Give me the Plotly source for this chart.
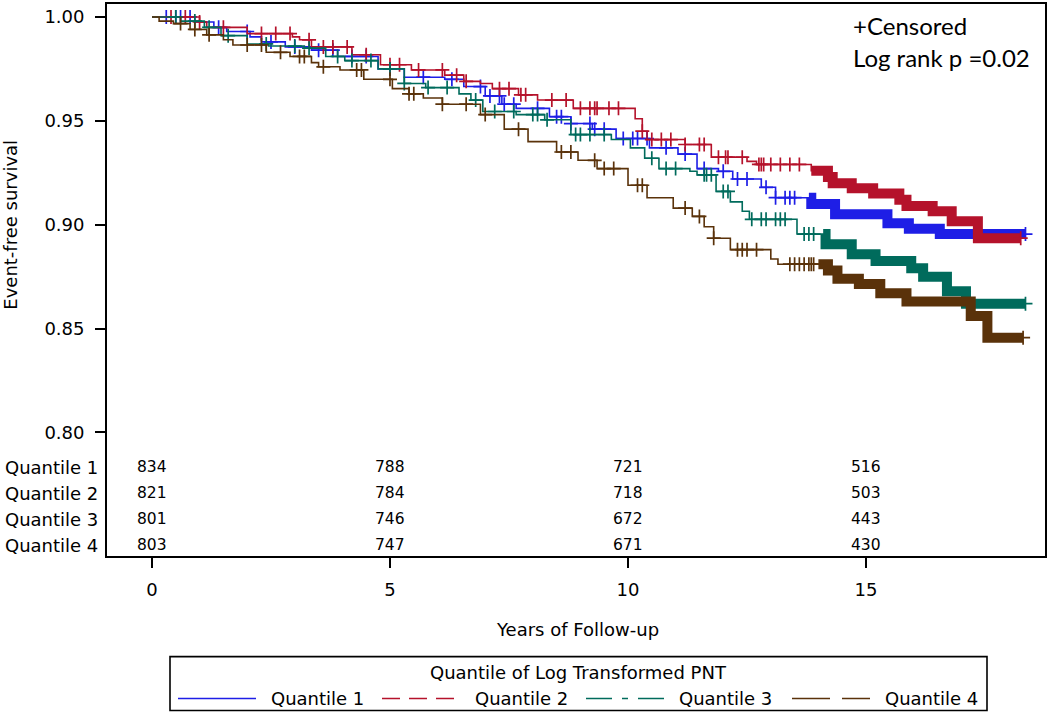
import plotly.graph_objects as go

# ---------------- data ----------------
groups = ["Quantile 1", "Quantile 2", "Quantile 3", "Quantile 4"]
colors = ["#1E1EE6", "#B5122B", "#006B5C", "#5A320A"]
x_ticks = [0, 5, 10, 15]
y_ticks = [0.80, 0.85, 0.90, 0.95, 1.00]
y_ticktext = ["0.80", "0.85", "0.90", "0.95", "1.00"]

# Kaplan-Meier step curves: event times and survival after each event
q1_t = [0, 0.9, 1.3, 1.57, 2.06, 2.3, 2.8, 3.35, 3.9, 4.75, 5.3, 6.15, 6.55, 7.0, 7.35, 7.65, 8.35, 8.8,
        9.25, 9.75, 10.45, 11.05, 11.45, 11.9, 12.2, 12.8, 13.1, 13.85, 14.35, 15.45, 15.9, 16.55]
q1_s = [1.0, 0.9976, 0.995, 0.993, 0.9904, 0.988, 0.9856, 0.984, 0.981, 0.975, 0.971, 0.970, 0.9665, 0.962,
        0.958, 0.956, 0.952, 0.9487, 0.946, 0.9415, 0.937, 0.934, 0.927, 0.9257, 0.922, 0.918, 0.913, 0.910,
        0.905, 0.9007, 0.898, 0.8955]
q1_end = 18.35

q2_t = [0, 1.0, 1.15, 2.0, 2.95, 3.1, 3.35, 4.2, 4.8, 5.45, 6.15, 6.55, 6.9, 7.15, 7.7, 8.1, 8.85, 10.15,
        10.3, 10.4, 11.2, 11.75, 12.5, 12.7, 13.85, 14.2, 14.3, 14.7, 15.15, 15.7, 15.85, 16.4, 16.8, 17.35]
q2_s = [1.0, 0.9976, 0.995, 0.992, 0.9904, 0.989, 0.9856, 0.9818, 0.977, 0.9745, 0.972, 0.969, 0.968,
        0.9655, 0.9625, 0.960, 0.956, 0.951, 0.945, 0.941, 0.9386, 0.9325, 0.9305, 0.929, 0.926, 0.923,
        0.920, 0.9175, 0.915, 0.912, 0.909, 0.9065, 0.9017, 0.8935]
q2_end = 18.25

q3_t = [0, 0.6, 1.1, 1.45, 2.0, 2.45, 3.2, 3.65, 4.05, 4.75, 5.3, 5.75, 6.45, 6.7, 6.95, 7.65, 8.25, 8.8,
        9.65, 10.05, 10.35, 10.65, 11.3, 11.45, 11.85, 12.15, 12.4, 12.55, 13.55, 14.15, 14.7, 15.2, 15.95,
        16.2, 16.7, 17.1]
q3_s = [1.0, 0.998, 0.995, 0.991, 0.987, 0.986, 0.985, 0.981, 0.979, 0.975, 0.968, 0.966, 0.963, 0.960,
        0.9545, 0.953, 0.9505, 0.9434, 0.941, 0.937, 0.932, 0.927, 0.9257, 0.924, 0.916, 0.911, 0.9065,
        0.9026, 0.8955, 0.8906, 0.8858, 0.8825, 0.879, 0.875, 0.868, 0.862]
q3_end = 18.35

q4_t = [0, 0.15, 0.45, 0.8, 1.15, 1.5, 1.7, 2.4, 2.9, 3.35, 3.5, 3.95, 4.45, 5.05, 5.4, 5.7, 6.1, 6.9, 7.4,
        7.9, 8.5, 8.95, 9.35, 10.0, 10.4, 10.95, 11.35, 11.6, 11.8, 12.15, 13.0, 13.15, 14.2, 14.4, 14.85,
        15.3, 15.85, 17.2, 17.55]
q4_s = [1.0, 0.998, 0.9968, 0.994, 0.9914, 0.989, 0.9865, 0.983, 0.981, 0.978, 0.976, 0.9745, 0.970,
        0.9655, 0.963, 0.961, 0.958, 0.953, 0.946, 0.940, 0.935, 0.931, 0.927, 0.919, 0.913, 0.908, 0.904,
        0.899, 0.8935, 0.888, 0.8835, 0.881, 0.878, 0.874, 0.8715, 0.867, 0.863, 0.856, 0.8456]
q4_end = 18.3

# censoring times (single marks) and start of the dense censoring band
q1_cens = [0.3, 0.5, 0.6, 0.8, 1.4, 2.0, 2.5, 3.0, 3.5, 3.8, 4.2, 4.5, 5.0, 5.7, 6.3, 6.9, 7.1, 7.3, 7.4,
           7.6, 8.1, 8.5, 8.6, 8.8, 9.2, 9.3, 9.5, 9.9, 10.1, 10.2, 10.4, 10.8, 11.2, 11.6, 12.0, 12.3, 12.5,
           12.9, 13.1, 13.3, 13.4, 13.5]
q2_cens = [0.4, 0.7, 1.0, 1.5, 2.3, 2.6, 2.9, 3.3, 3.6, 3.8, 4.1, 4.5, 5.0, 5.2, 5.6, 6.1, 6.4, 6.6, 7.3,
           7.5, 7.75, 7.85, 8.4, 8.7, 9.0, 9.2, 9.3, 9.35, 9.6, 9.8, 10.3, 10.5, 10.7, 10.9, 11.2, 11.5,
           11.6, 11.9, 12.05, 12.1, 12.4, 12.75, 12.8, 12.85, 13.0, 13.2, 13.4, 13.6]
q3_cens = [0.5, 0.9, 1.2, 1.6, 2.4, 3.0, 3.3, 3.9, 4.2, 4.6, 5.0, 5.3, 5.8, 6.2, 6.8, 7.2, 7.6, 8.0, 8.1,
           8.3, 8.9, 9.0, 9.2, 9.5, 10.5, 10.8, 11.0, 11.6, 11.65, 11.75, 12.0, 12.1, 12.6, 12.8, 12.9, 13.1,
           13.2, 13.3, 13.7, 13.8, 13.9]
q4_cens = [0.6, 0.9, 1.2, 2.0, 2.3, 2.7, 3.1, 3.2, 3.6, 4.3, 4.4, 5.0, 5.4, 5.5, 6.1, 6.6, 7.0, 7.7, 8.6,
           8.8, 9.3, 9.5, 9.7, 10.2, 10.3, 11.2, 11.5, 11.8, 12.3, 12.4, 12.5, 12.7, 13.4, 13.5, 13.6, 13.7,
           13.8, 13.85, 13.9]
band_start = [13.8, 13.85, 14.1, 14.0]

# number at risk
at_risk = [
    [834, 788, 721, 516],
    [821, 784, 718, 503],
    [801, 746, 672, 443],
    [803, 747, 671, 430],
]

curves = [
    (q1_t, q1_s, q1_end, q1_cens),
    (q2_t, q2_s, q2_end, q2_cens),
    (q3_t, q3_s, q3_end, q3_cens),
    (q4_t, q4_s, q4_end, q4_cens),
]

# ---------------- layout constants (pixels of 1050x714 canvas) ----------------
W, H = 1050, 714
L, R, T, B = 107, 1045, 2, 556
XR = [-0.945, 18.76]
YR = [0.74053, 1.00624]
FONT = "DejaVu Sans, Verdana, sans-serif"


def px(x):
    return (x - L) / (R - L)


def py(y):
    return (B - y) / (B - T)


def surv_at(ts, ss, t):
    v = ss[0]
    for ti, si in zip(ts, ss):
        if ti <= t:
            v = si
    return v


fig = go.Figure()

for i, (ts, ss, tend, cens) in enumerate(curves):
    col = colors[i]
    xs = list(ts) + [tend]
    ys = list(ss) + [ss[-1]]
    fig.add_trace(go.Scatter(x=xs, y=ys, mode="lines", line=dict(color=col, width=1.6, shape="hv"),
                             showlegend=False, hoverinfo="skip"))
    # dense censoring band
    bx = [band_start[i]] + [t for t in ts if t > band_start[i]] + [tend]
    by = [surv_at(ts, ss, t) for t in bx]
    fig.add_trace(go.Scatter(x=bx, y=by, mode="lines", line=dict(color=col, width=10, shape="hv"),
                             showlegend=False, hoverinfo="skip"))
    # censor marks
    cy = [surv_at(ts, ss, t) for t in cens] + [ss[-1]]
    fig.add_trace(go.Scatter(x=list(cens) + [tend], y=cy, mode="markers",
                             marker=dict(symbol="cross-thin", size=10, line=dict(color=col, width=1.7)),
                             showlegend=False, hoverinfo="skip"))

annotations = []
shapes = []

# at-risk table
row_y = [467, 493, 519, 545]
for r in range(4):
    annotations.append(dict(x=px(100), y=py(row_y[r]), xref="paper", yref="paper", text=groups[r],
                            showarrow=False, xanchor="right", yanchor="middle",
                            font=dict(family=FONT, size=18, color="black")))
    for c, xv in enumerate(x_ticks):
        annotations.append(dict(x=xv, y=py(row_y[r]), xref="x", yref="paper", text=str(at_risk[r][c]),
                                showarrow=False, xanchor="center", yanchor="middle",
                                font=dict(family=FONT, size=15.5, color="black")))

# y title
annotations.append(dict(x=px(11), y=0.90, xref="paper", yref="y", text="Event-free survival",
                        textangle=-90, showarrow=False, xanchor="center", yanchor="middle",
                        font=dict(family=FONT, size=18, color="black")))
# x title
annotations.append(dict(x=px(577), y=py(630), xref="paper", yref="paper", text="Years of Follow-up",
                        showarrow=False, xanchor="center", yanchor="middle",
                        font=dict(family=FONT, size=18, color="black")))
# inset text
annotations.append(dict(x=px(851), y=py(24), xref="paper", yref="paper", text="+Censored",
                        showarrow=False, xanchor="left", yanchor="middle",
                        font=dict(family="Lato, sans-serif", size=24, color="black")))
annotations.append(dict(x=px(851), y=py(56), xref="paper", yref="paper", text="Log rank p =0.02",
                        showarrow=False, xanchor="left", yanchor="middle",
                        font=dict(family="Lato, sans-serif", size=24, color="black")))

# legend box
lg_x0, lg_x1, lg_y0, lg_y1 = 170, 987, 657, 711
shapes.append(dict(type="rect", xref="paper", yref="paper", x0=px(lg_x0), x1=px(lg_x1),
                   y0=py(lg_y0), y1=py(lg_y1), line=dict(color="black", width=1.6), fillcolor="white"))
annotations.append(dict(x=px((lg_x0 + lg_x1) / 2), y=py(673), xref="paper", yref="paper",
                        text="Quantile of Log Transformed PNT", showarrow=False, xanchor="center",
                        yanchor="middle", font=dict(family=FONT, size=18, color="black")))
dashes = ["solid", "18px,9px", "26px,10px,6px,10px", "38px,12px"]
item_x = [178, 382, 586, 792]
for i in range(4):
    x0 = item_x[i]
    shapes.append(dict(type="line", xref="paper", yref="paper", x0=px(x0), x1=px(x0 + 78),
                       y0=py(699), y1=py(699), line=dict(color=colors[i], width=1.7, dash=dashes[i])))
    annotations.append(dict(x=px(x0 + 91), y=py(699), xref="paper", yref="paper", text=groups[i],
                            showarrow=False, xanchor="left", yanchor="middle",
                            font=dict(family=FONT, size=18, color="black")))

fig.update_layout(
    width=W, height=H,
    margin=dict(l=L, r=W - R, t=T, b=H - B, pad=0),
    paper_bgcolor="white", plot_bgcolor="white",
    showlegend=False,
    annotations=annotations, shapes=shapes,
    xaxis=dict(range=XR, tickvals=x_ticks, ticks="outside", ticklen=10, tickwidth=1.6, tickcolor="black",
               showline=True, linecolor="black", linewidth=1.8, mirror=True, showgrid=False, zeroline=False,
               tickfont=dict(family=FONT, size=18, color="black"), ticklabelstandoff=6),
    yaxis=dict(range=YR, tickvals=y_ticks, ticktext=y_ticktext, ticks="outside", ticklen=10, tickwidth=1.6,
               tickcolor="black", showline=True, linecolor="black", linewidth=1.8, mirror=True,
               showgrid=False, zeroline=False, tickfont=dict(family=FONT, size=18, color="black"),
               ticklabelstandoff=7),
)

fig.write_html("out.html", config={"displayModeBar": False},
               post_script="document.body.style.margin='0';")
